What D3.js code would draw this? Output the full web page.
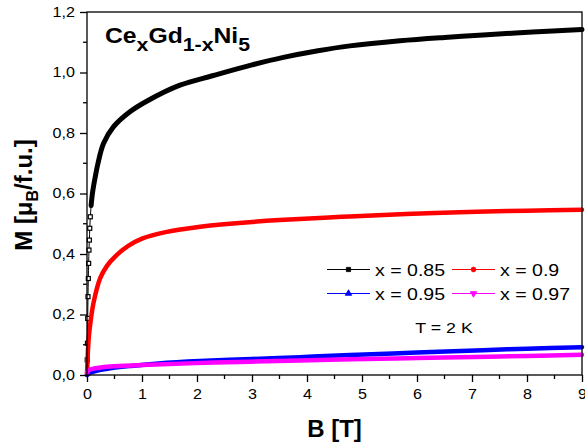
<!DOCTYPE html>
<html>
<head>
<meta charset="utf-8">
<script src="https://d3js.org/d3.v7.min.js"></script>
<style>
  body { margin: 0; background: #fff; }
  text { font-family: "Liberation Sans", Arial, sans-serif; fill: #000; }
</style>
</head>
<body>
<script>
// M(B) curves, B in tesla, M in muB per formula unit
var B085 = [0, 0.004, 0.008, 0.013, 0.018, 0.024, 0.03, 0.036, 0.043, 0.05, 0.06, 0.075, 0.095, 0.12, 0.15, 0.2, 0.3, 0.48, 0.78, 1.085, 1.69, 2.3, 3, 3.57, 4.2, 4.78, 5.69, 6.5, 7.2, 8.1, 9];
var M085 = [0, 0.05, 0.105, 0.187, 0.259, 0.319, 0.369, 0.413, 0.446, 0.485, 0.523, 0.56, 0.595, 0.625, 0.655, 0.7, 0.765, 0.82, 0.87, 0.905, 0.958, 0.99, 1.025, 1.05, 1.072, 1.088, 1.105, 1.116, 1.124, 1.134, 1.142];

var B090 = [0, 0.01, 0.02, 0.035, 0.06, 0.12, 0.24, 0.36, 0.53, 0.75, 1, 1.45, 2.06, 2.6, 3.5, 4.63, 5.8, 7.08, 8, 9];
var M090 = [0, 0.05, 0.09, 0.13, 0.17, 0.24, 0.32, 0.36, 0.395, 0.427, 0.451, 0.473, 0.49, 0.5, 0.512, 0.523, 0.532, 0.54, 0.543, 0.546];

var B095 = [0, 0.1, 0.35, 0.8, 1.3, 2.05, 3, 3.87, 4.78, 6, 7.2, 8, 9];
var M095 = [0, 0.01, 0.02, 0.03, 0.038, 0.046, 0.053, 0.059, 0.066, 0.074, 0.082, 0.087, 0.092];

var B097 = [0, 0.02, 0.1, 0.42, 1, 2.3, 3.87, 4.81, 6, 7.3, 8, 9];
var M097 = [0.008, 0.014, 0.02, 0.028, 0.033, 0.041, 0.048, 0.052, 0.056, 0.06, 0.063, 0.067];

var seriesNames = ["x = 0.85", "x = 0.9", "x = 0.95", "x = 0.97"];
var seriesColors = ["#000000", "#ff0000", "#0000ff", "#ff00ff"];
var seriesSymbols = [d3.symbolSquare, d3.symbolCircle, d3.symbolTriangle, d3.symbolTriangle];

var xTicks = [0, 1, 2, 3, 4, 5, 6, 7, 8, 9];
var yTicks = [0, 0.2, 0.4, 0.6, 0.8, 1.0, 1.2];

var width = 585, height = 446;
var margin = {top: 12, right: 3, bottom: 71, left: 87};
var w = width - margin.left - margin.right,
    h = height - margin.top - margin.bottom;
var SX = 1.15; // the original's lettering is a bit wide

var svg = d3.select("body").append("svg")
    .attr("width", width)
    .attr("height", height);

var g = svg.append("g")
    .attr("transform", "translate(" + margin.left + "," + margin.top + ")");

var x = d3.scaleLinear().domain([0, 9]).range([0, w]);
var y = d3.scaleLinear().domain([0, 1.2]).range([h, 0]);

var comma = function (d) { return d3.format(".1f")(d).replace(".", ","); };

// text drawn wider than the font, anchored at (tx,ty)
function wideText(parent, tx, ty, size, anchor) {
  return parent.append("g")
      .attr("transform", "translate(" + tx + "," + ty + ") scale(" + SX + ",1)")
    .append("text")
      .attr("text-anchor", anchor || "start")
      .attr("font-size", size);
}

// curves
var series = [
  {B: B085, M: M085},
  {B: B090, M: M090},
  {B: B095, M: M095},
  {B: B097, M: M097}
];

var line = d3.line()
    .x(function (d) { return x(d[0]); })
    .y(function (d) { return y(d[1]); })
    .curve(d3.curveCatmullRom.alpha(0.5));

var widths = [5, 4.5, 4.5, 4.5];

series.forEach(function (s, i) {
  var pts = s.B.map(function (b, j) { return [b, s.M[j]]; });
  g.append("path")
    .attr("d", line(pts))
    .attr("fill", "none")
    .attr("stroke", seriesColors[i])
    .attr("stroke-width", 1);
  var dense = i === 0 ? pts.filter(function (d) { return d[0] >= 0.07; }) : pts;
  g.append("path")
    .attr("d", line(dense))
    .attr("fill", "none")
    .attr("stroke", seriesColors[i])
    .attr("stroke-width", widths[i])
    .attr("stroke-linecap", "round");
  if (i === 0) {
    g.selectAll(".lowpt")
      .data(pts.filter(function (d) { return d[0] > 0 && d[0] < 0.07; }))
      .enter().append("rect")
        .attr("class", "lowpt")
        .attr("x", function (d) { return x(d[0]) - 2; })
        .attr("y", function (d) { return y(d[1]) - 2; })
        .attr("width", 4).attr("height", 4)
        .attr("fill", "#fff")
        .attr("stroke", "#000")
        .attr("stroke-width", 1.2);
  }
});

// frame
g.append("rect")
  .attr("width", w).attr("height", h)
  .attr("fill", "none")
  .attr("stroke", "#000")
  .attr("stroke-width", 1.3);

// x axis
var xAxis = g.append("g").attr("transform", "translate(0," + h + ")");
xAxis.call(d3.axisBottom(x).tickValues(xTicks).tickSize(7).tickSizeOuter(0).tickFormat(d3.format("d")));
xAxis.selectAll("line").attr("stroke-width", 1.3);
xAxis.append("g").selectAll("line")
  .data(d3.range(0.5, 9, 1)).enter().append("line")
    .attr("x1", function (d) { return x(d); }).attr("x2", function (d) { return x(d); })
    .attr("y1", 0).attr("y2", 4)
    .attr("stroke", "#000").attr("stroke-width", 1.3);

// y axis
var yAxis = g.append("g");
yAxis.call(d3.axisLeft(y).tickValues(yTicks).tickSize(7).tickPadding(5).tickSizeOuter(0).tickFormat(comma));
yAxis.selectAll("line").attr("stroke-width", 1.3);
yAxis.append("g").selectAll("line")
  .data(d3.range(0.1, 1.2, 0.2)).enter().append("line")
    .attr("x1", 0).attr("x2", -4)
    .attr("y1", function (d) { return y(d); }).attr("y2", function (d) { return y(d); })
    .attr("stroke", "#000").attr("stroke-width", 1.3);

svg.selectAll(".domain").remove();
xAxis.selectAll(".tick text")
  .attr("font-size", 14).attr("dy", "1em").attr("fill", "#000")
  .attr("font-family", "Liberation Sans, Arial, sans-serif")
  .attr("transform", "scale(" + SX + ",1)");
yAxis.selectAll(".tick text")
  .attr("font-size", 14).attr("fill", "#000")
  .attr("font-family", "Liberation Sans, Arial, sans-serif")
  .attr("x", 0)
  .attr("transform", "translate(-12,0) scale(" + SX + ",1)");

// axis titles
svg.append("text")
  .attr("x", margin.left + x(4.5)).attr("y", 437)
  .attr("text-anchor", "middle")
  .attr("font-size", 24).attr("font-weight", "bold")
  .text("B [T]");

var yl = svg.append("text")
  .attr("transform", "translate(32,195) rotate(-90)")
  .attr("text-anchor", "middle")
  .attr("font-size", 24).attr("font-weight", "bold");
yl.append("tspan").text("M [\u03bc");
yl.append("tspan").attr("font-size", 16).attr("dy", 6).text("B");
yl.append("tspan").attr("dy", -6).text("/f.u.]");

// compound label
var title = wideText(svg, 105, 43, 21.5).attr("font-weight", "bold");
title.append("tspan").text("Ce");
title.append("tspan").attr("font-size", 18.5).attr("dy", 8).text("x");
title.append("tspan").attr("dy", -8).text("Gd");
title.append("tspan").attr("font-size", 18.5).attr("dy", 8).text("1-x");
title.append("tspan").attr("dy", -8).text("Ni");
title.append("tspan").attr("font-size", 18.5).attr("dy", 8).text("5");

// legend
var legX = [327, 452], legY = [269.5, 293.5];
seriesNames.forEach(function (name, i) {
  var lx = legX[i % 2], ly = legY[Math.floor(i / 2)];
  var lg = svg.append("g");
  lg.append("line")
    .attr("x1", lx).attr("x2", lx + 43)
    .attr("y1", ly).attr("y2", ly)
    .attr("stroke", seriesColors[i]).attr("stroke-width", 1);
  lg.append("path")
    .attr("d", d3.symbol().type(seriesSymbols[i]).size(18)())
    .attr("transform", "translate(" + (lx + 21.5) + "," + ly + ")" + (i === 3 ? " rotate(180)" : ""))
    .attr("fill", seriesColors[i])
    .attr("stroke", seriesColors[i])
    .attr("stroke-width", 0.8);
  wideText(lg, lx + 48, ly + 6.3, 17).text(name);
});

wideText(svg, 444, 333, 15.5, "middle").text("T = 2 K");
</script>
</body>
</html>
